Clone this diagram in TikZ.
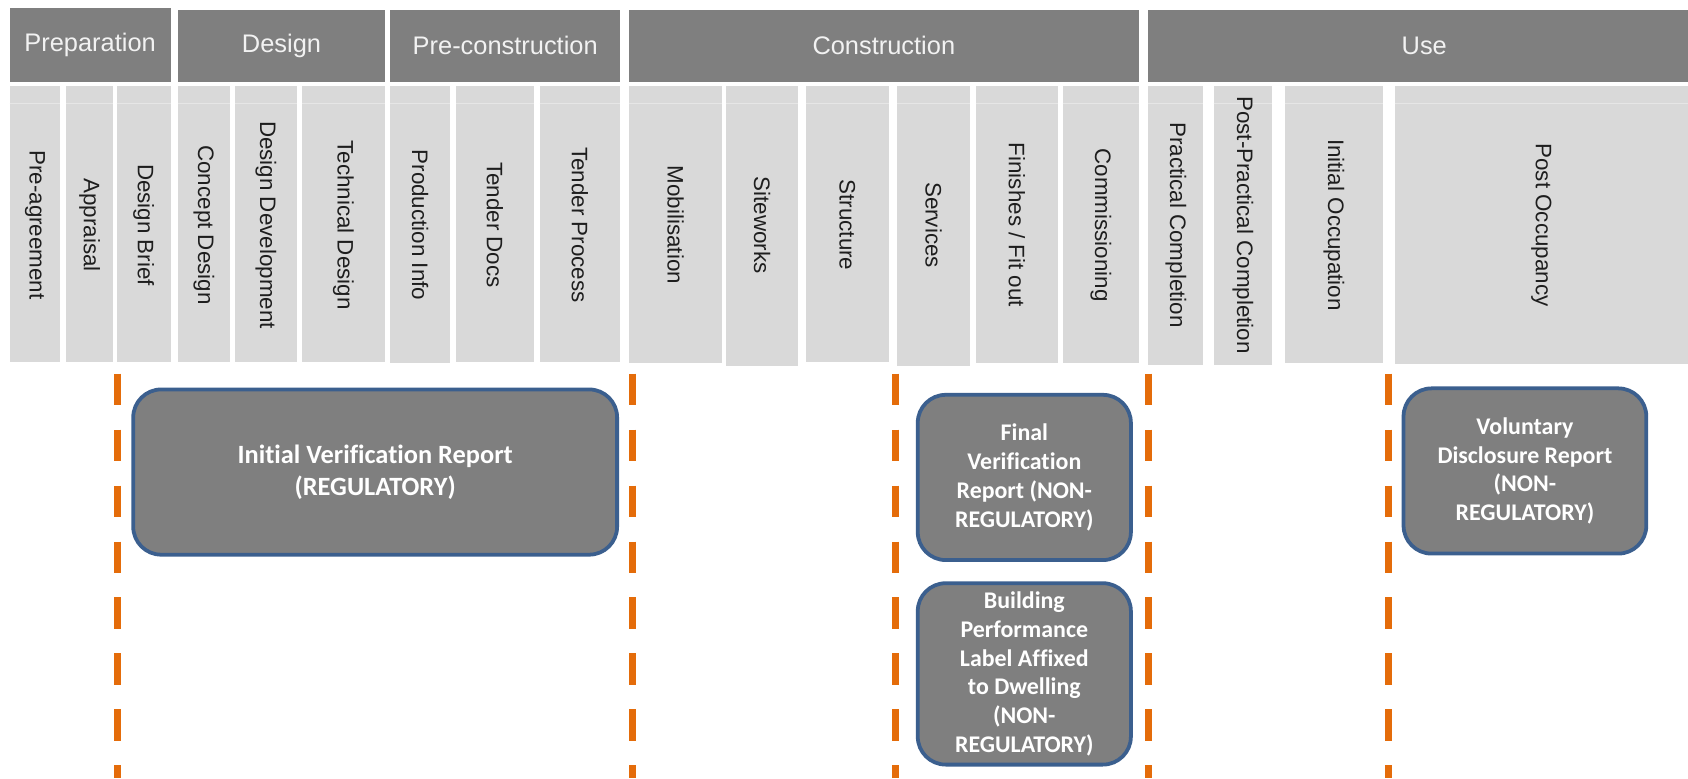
\documentclass[tikz,border=0pt]{standalone}
\usepackage{fontspec}
\setmainfont{Liberation Sans}
\newfontfamily\boxfont[Ligatures=NoCommon]{Carlito}
\definecolor{hdrgray}{HTML}{7F7F7F}
\definecolor{colgray}{HTML}{D9D9D9}
\definecolor{dashorange}{HTML}{E46C0A}
\definecolor{boxblue}{HTML}{3B5F8E}
\definecolor{coltxt}{HTML}{1E1E1E}
\definecolor{hdrtxt}{HTML}{F2F2F2}
\newcommand{\phasecol}[5]{%
  \fill[colgray] (#2,80) rectangle (#3,#4);
  \draw[faintline] (#2,96) -- (#3,96);
  \node[coltext] (#1) at ({(#2+#3)/2},209) {#5};}
\begin{document}
\begin{tikzpicture}[x=1pt,y=-1pt,
  hdrtext/.style={text=hdrtxt,font=\fontsize{23.6}{28}\selectfont,inner sep=0pt},
  coltext/.style={text=coltxt,font=\fontsize{20.8}{25}\selectfont,rotate=-90,inner sep=0pt},
  faintline/.style={draw=white!35!colgray,line width=0.8pt},
  phaseline/.style={draw=dashorange,line width=6.7pt,dash pattern=on 29.5pt off 22.5pt},
  report/.style={draw=boxblue,fill=hdrgray,line width=3.5pt,rounded corners=26pt,
    text=white,align=center,inner sep=0pt,
    font=\boxfont\bfseries\fontsize{22.2}{26.7}\selectfont}]
\useasboundingbox[fill=white] (0,0) rectangle (1568,722.7);
% headers
\fill[hdrgray] (9,7) rectangle (158.5,76);
\node[hdrtext] (hprep) at (83.7,41.5) {Preparation};
\fill[hdrgray] (165.7,9) rectangle (357.3,76);
\node[hdrtext] (hdes) at (261.5,42.5) {Design};
\fill[hdrgray] (362.6,9) rectangle (576,76);
\node[hdrtext] (hpre) at (469.3,42.5) {Pre-construction};
\fill[hdrgray] (584.3,9) rectangle (1058,76);
\node[hdrtext] (hcon) at (821,42.5) {Construction};
\fill[hdrgray] (1066.8,9) rectangle (1568,76);
\node[hdrtext] (huse) at (1323,42.5) {Use};
% stage columns
\phasecol{c1}{9}{55.8}{336}{Pre-agreement}
\phasecol{c2}{61.5}{104.9}{336}{Appraisal}
\phasecol{c3}{108.4}{158.5}{336}{Design Brief}
\phasecol{c4}{165.7}{213.3}{336}{Concept Design}
\phasecol{c5}{218.6}{275.5}{336}{Design Development}
\phasecol{c6}{280.8}{357.3}{336}{Technical Design}
\phasecol{c7}{362.6}{417.7}{337}{Production Info}
\phasecol{c8}{423.7}{495.9}{336}{Tender Docs}
\phasecol{c9}{501.2}{576}{336}{Tender Process}
\phasecol{c10}{584.3}{670.9}{337}{Mobilisation}
\phasecol{c11}{674.8}{741.2}{340}{Siteworks}
\phasecol{c12}{748.5}{825.8}{336}{Structure}
\phasecol{c13}{833.4}{901.1}{340}{Services}
\phasecol{c14}{906.4}{982.7}{337}{Finishes / Fit out}
\phasecol{c15}{987.4}{1058}{337}{Commissioning}
\phasecol{c16}{1066.8}{1117.9}{339}{Practical Completion}
\phasecol{c17}{1127.3}{1181.9}{339}{Post-Practical Completion}
\phasecol{c18}{1193.6}{1284.5}{337}{Initial Occupation}
\phasecol{c19}{1295.6}{1568}{338}{Post Occupancy}
% orange phase lines
\coordinate (d1t) at (109.5,347); \coordinate (d1b) at (109.5,722.7);
\coordinate (d2t) at (587.5,347); \coordinate (d2b) at (587.5,722.7);
\coordinate (d3t) at (831.5,347); \coordinate (d3b) at (831.5,722.7);
\coordinate (d4t) at (1066.5,347); \coordinate (d4b) at (1066.5,722.7);
\coordinate (d5t) at (1290,347); \coordinate (d5b) at (1290,722.7);
\foreach \i in {1,...,5} {\draw[phaseline] (d\i t) -- (d\i b);}
% reports
\node[report,minimum width=449.5,minimum height=153.5,
  font=\boxfont\bfseries\fontsize{24.5}{29.4}\selectfont] (ivr) at (348.5,438.5)
  {Initial Verification Report\\(REGULATORY)};
\node[report,minimum width=198,minimum height=153.5] (fvr) at (951.5,443.5)
  {Final\\Verification\\Report (NON-\\REGULATORY)};
\node[report,minimum width=198,minimum height=168.5] (bpl) at (951.5,626)
  {Building\\Performance\\Label Affixed\\to Dwelling\\(NON-\\REGULATORY)};
\node[report,minimum width=225.5,minimum height=153.5] (vdr) at (1416.5,437.5)
  {Voluntary\\Disclosure Report\\(NON-\\REGULATORY)};
\end{tikzpicture}
\end{document}
